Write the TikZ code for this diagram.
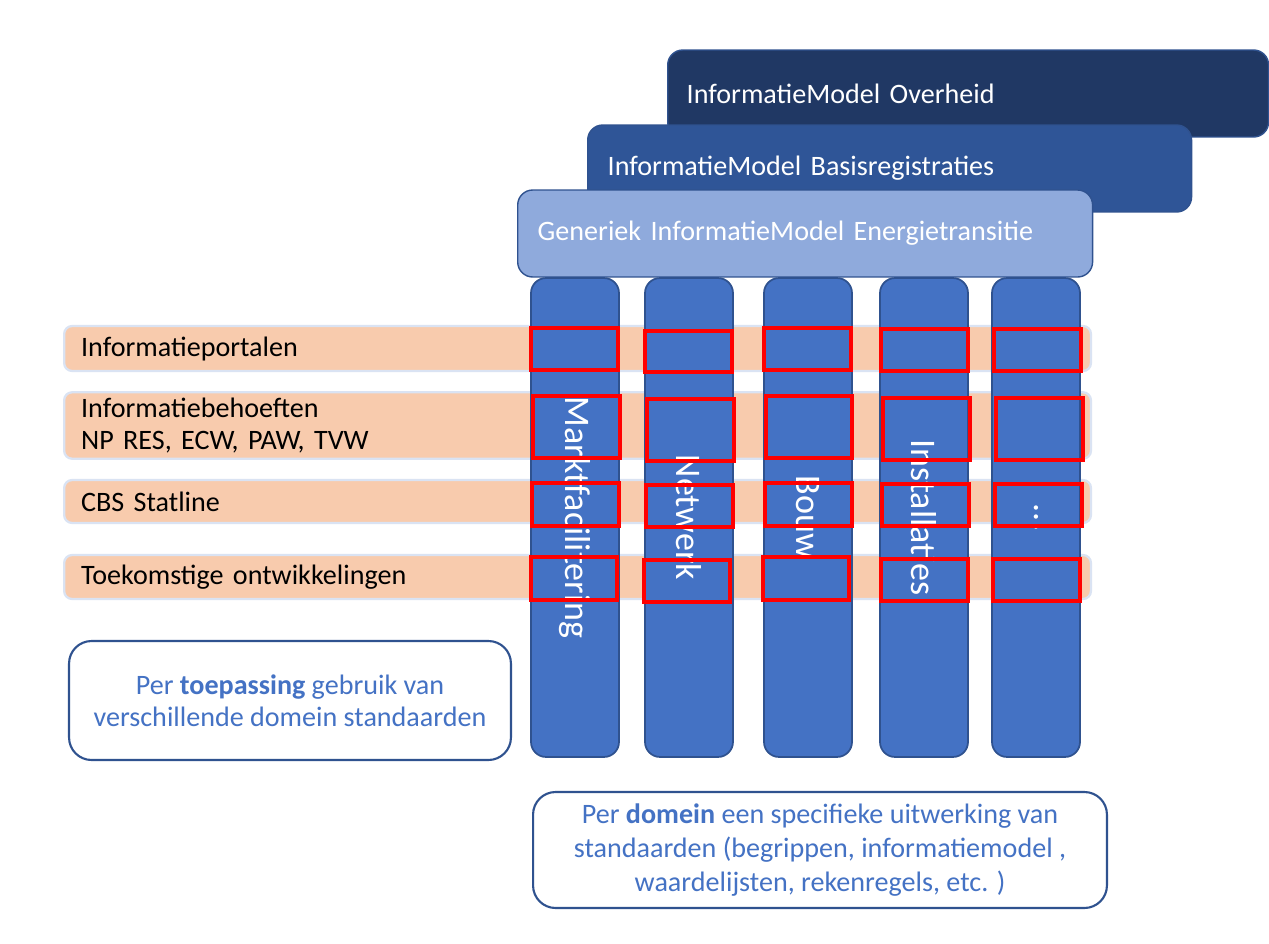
\documentclass[tikz,border=0pt]{standalone}
\usepackage{fontspec}
\setmainfont{Carlito}
\usepackage{xcolor}

\definecolor{overheidBlue}{HTML}{203864}
\definecolor{basisBlue}{HTML}{2F5597}
\definecolor{generiekBlue}{HTML}{8FAADC}
\definecolor{edgeBlue}{HTML}{2F528F}
\definecolor{colBlue}{HTML}{4472C4}
\definecolor{rowFill}{HTML}{F8CBAD}
\definecolor{rowEdge}{HTML}{DAE3F3}
\definecolor{noteBlue}{HTML}{4472C4}

\begin{document}
\begin{tikzpicture}[x=0.02cm,y=-0.02cm,
	layerbar/.style={draw=edgeBlue,line width=0.8pt,rounded corners=0.3cm,anchor=west,align=left,text=white,minimum height=1.74cm,font=\fontsize{16}{19}\selectfont},
	rowbar/.style={draw=rowEdge,line width=1.3pt,fill=rowFill,rounded corners=0.16cm,anchor=west,align=left,text width=19.86cm,inner xsep=0.34cm,font=\fontsize{16}{18}\selectfont},
	domainbar/.style={draw=edgeBlue,line width=1pt,fill=colBlue,rounded corners=0.3cm,rotate=-90,minimum width=9.58cm,minimum height=1.76cm,inner sep=0pt,text=white,font=\fontsize{20.5}{24}\selectfont},
	cellbox/.style={draw=red,line width=1.8pt},
	notebox/.style={draw=edgeBlue,line width=1.2pt,fill=white,rounded corners=0.45cm,align=center,text=noteBlue}]
					\useasboundingbox (0,0) rectangle (1269,944);
					% stacked information models
					\node[layerbar,fill=overheidBlue,text width=11.26cm,inner xsep=0.38cm] (imo) at (667,93.5) {InformatieModel Overheid};
					\node[layerbar,fill=basisBlue,text width=11.28cm,inner xsep=0.4cm] (imb) at (587,168.5) {InformatieModel Basisregistraties};
					\node[layerbar,fill=generiekBlue,text width=10.7cm,inner xsep=0.4cm] (ime) at (517,233.5) {Generiek InformatieModel Energietransitie};
					% applications
					\node[rowbar,minimum height=0.9cm] (r1) at (63,348.5) {Informatieportalen};
					\node[rowbar,minimum height=1.3cm] (r2) at (63,425.5) {Informatiebehoeften\\NP RES, ECW, PAW, TVW};
					\node[rowbar,minimum height=0.86cm] (r3) at (63,501.5) {CBS Statline};
					\node[rowbar,minimum height=0.88cm] (r4) at (63,577) {Toekomstige ontwikkelingen};
					% domains
					\node[domainbar] (d1) at (575,517.5) {Marktfacilitering};
					\node[domainbar] (d2) at (689,517.5) {Netwerk};
					\node[domainbar] (d3) at (808,517.5) {Bouw};
					\node[domainbar] (d4) at (924,517.5) {Installaties};
					\node[domainbar] (d5) at (1036,517.5) {...};
					% crossings
					\foreach \xa/\ya/\xb/\yb in {531/328/618/370, 645/331/732/372, 764/328/851/370, 881/329/968/371, 994/329/1081/371,
						533/396/620/458, 647/399/734/461, 766/396/852/458, 883/398/970/460, 996/398/1083/460,
						532/483/619/526, 646/485/733/527, 765/483/852/526, 882/484/969/526, 995/484/1082/526,
						531/557/617/600, 644/560/730/602, 763/557/849/600, 881/559/968/601, 993/559/1080/601}
						\draw[cellbox] (\xa,\ya) rectangle (\xb,\yb);
					% notes
					\node[notebox,minimum width=8.84cm,minimum height=2.38cm,font=\fontsize{16}{18}\selectfont] (n1) at (290,700.5) {Per \textbf{toepassing} gebruik van\\verschillende domein standaarden};
					\node[notebox,minimum width=11.48cm,minimum height=2.32cm,font=\fontsize{16}{19.5}\selectfont] (n2) at (820,850) {Per \textbf{domein} een specifieke uitwerking van\\standaarden (begrippen, informatiemodel ,\\waardelijsten, rekenregels, etc. )};
				\end{tikzpicture}
\end{document}
